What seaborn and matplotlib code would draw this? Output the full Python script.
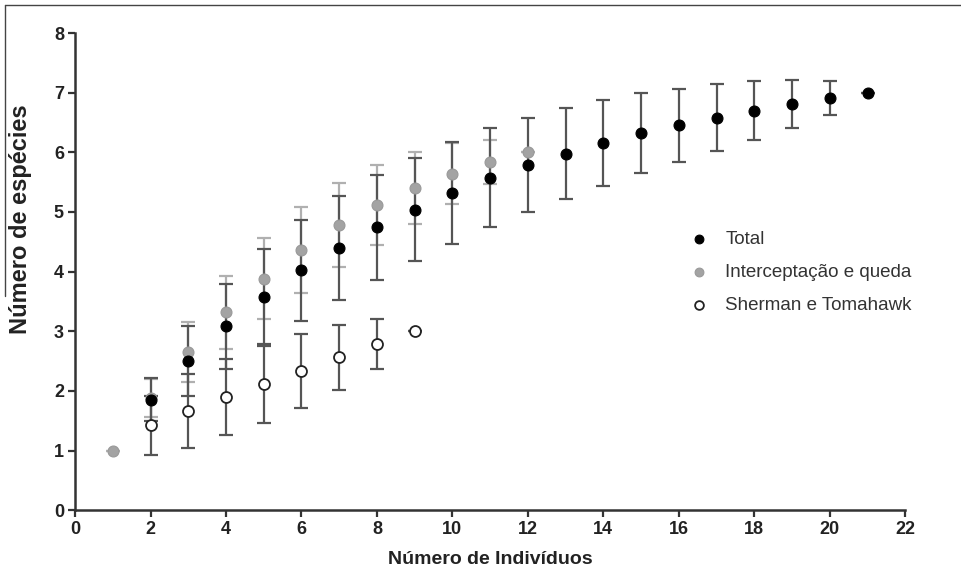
import numpy as np
import pandas as pd
import matplotlib.pyplot as plt
import seaborn as sns
from matplotlib.lines import Line2D

# valores (média e desvio de cada curva de rarefação)
x_total = [2, 3, 4, 5, 6, 7, 8, 9, 10, 11, 12, 13, 14, 15, 16, 17, 18, 19, 20, 21]
total_mean = [1.85, 2.50, 3.08, 3.58, 4.02, 4.40, 4.74, 5.04, 5.32, 5.57,
              5.79, 5.98, 6.15, 6.32, 6.45, 6.58, 6.70, 6.81, 6.91, 7.00]
total_sd = [0.36, 0.59, 0.71, 0.80, 0.85, 0.87, 0.88, 0.87, 0.85, 0.83,
            0.79, 0.76, 0.72, 0.67, 0.62, 0.56, 0.50, 0.41, 0.29, 0.0]

x_inter = [1, 2, 3, 4, 5, 6, 7, 8, 9, 10, 11, 12]
inter_mean = [1.0, 1.88, 2.65, 3.32, 3.88, 4.36, 4.78, 5.12, 5.40, 5.64, 5.84, 6.00]
inter_sd = [0.0, 0.32, 0.50, 0.61, 0.68, 0.72, 0.71, 0.67, 0.61, 0.51, 0.37, 0.0]

x_sher = [2, 3, 4, 5, 6, 7, 8, 9]
sher_mean = [1.42, 1.66, 1.90, 2.11, 2.34, 2.56, 2.78, 3.00]
sher_sd = [0.50, 0.62, 0.64, 0.65, 0.62, 0.55, 0.42, 0.0]

labels = ["Total", "Interceptação e queda", "Sherman e Tomahawk"]

df_total = pd.DataFrame({"x": x_total, "y": total_mean, "sd": total_sd})
df_inter = pd.DataFrame({"x": x_inter, "y": inter_mean, "sd": inter_sd})
df_sher = pd.DataFrame({"x": x_sher, "y": sher_mean, "sd": sher_sd})

sns.set_theme(style="ticks")
plt.rcParams['font.family'] = ['Liberation Sans Narrow', 'Liberation Sans', 'DejaVu Sans']

fig = plt.figure(figsize=(9.62, 5.70), dpi=100)
ax = fig.add_axes([0.078, 0.105, 0.863, 0.837])

# barras de erro
eb = dict(fmt="none", capsize=5, elinewidth=1.6, capthick=1.6, zorder=1)
ax.errorbar(df_inter.x, df_inter.y, yerr=df_inter.sd, ecolor="#b0b0b0", **eb)
ax.errorbar(df_total.x, df_total.y, yerr=df_total.sd, ecolor="#555555", **eb)
ax.errorbar(df_sher.x, df_sher.y, yerr=df_sher.sd, ecolor="#555555", **eb)

sns.scatterplot(data=df_inter, x="x", y="y", ax=ax, color="#a3a3a3",
                edgecolor="#999999", s=62, linewidth=0.8, zorder=3, label=labels[1])
sns.scatterplot(data=df_total, x="x", y="y", ax=ax, color="black",
                edgecolor="black", s=62, linewidth=0.8, zorder=4, label=labels[0])
sns.scatterplot(data=df_sher, x="x", y="y", ax=ax, color="white",
                edgecolor="#222222", s=62, linewidth=1.3, zorder=5, label=labels[2])

ax.set_xlim(0, 22)
ax.set_ylim(0, 8)
ax.set_xticks(np.arange(0, 23, 2))
ax.set_yticks(np.arange(0, 9, 1))
sns.despine(ax=ax)
for s in ["left", "bottom"]:
    ax.spines[s].set_linewidth(1.8)
    ax.spines[s].set_color("#333333")
ax.tick_params(axis="both", length=5, width=1.6, color="#333333",
               labelsize=13, pad=3, labelcolor="#222222")
for t in ax.get_xticklabels() + ax.get_yticklabels():
    t.set_fontweight("bold")

ax.set_xlabel("Número de Indivíduos", fontsize=14, fontweight="bold", color="#222222")
ax.set_ylabel("Número de espécies", fontsize=17, fontweight="bold", color="#222222")
ax.yaxis.set_label_coords(-0.052, 0.61)
ax.xaxis.set_label_coords(0.5, -0.085)

# legenda na ordem do original
h, l = ax.get_legend_handles_labels()
order = [l.index(lab) for lab in labels]
ax.legend([h[i] for i in order], [l[i] for i in order], frameon=False,
          loc="upper left", bbox_to_anchor=(0.718, 0.605), fontsize=13.5,
          handletextpad=0.4, labelspacing=0.85, borderpad=0, markerscale=0.8,
          labelcolor="#333333")

# moldura parcial do recorte original
fig.add_artist(Line2D([0.005, 1.0], [0.991, 0.991], color="#444444", lw=1))
fig.add_artist(Line2D([0.005, 0.005], [0.991, 0.48], color="#444444", lw=1))

fig.savefig("out.png", dpi=100)
